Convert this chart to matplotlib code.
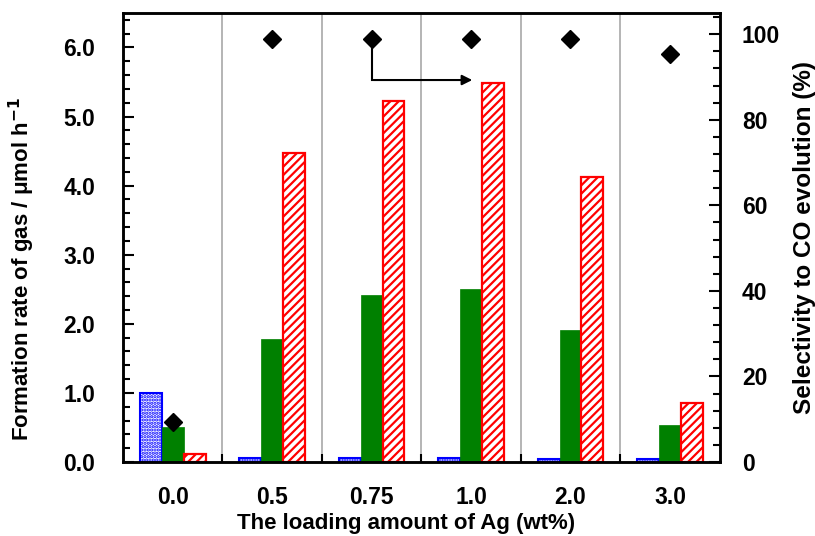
import matplotlib.pyplot as plt
import numpy as np
from matplotlib.ticker import MultipleLocator, FixedLocator

plt.rcParams['font.family'] = ['Liberation Sans', 'DejaVu Sans']
plt.rcParams['font.weight'] = 'bold'
plt.rcParams['hatch.linewidth'] = 1.6

# data
loading = ["0.0", "0.5", "0.75", "1.0", "2.0", "3.0"]
h2_rate = [1.00, 0.06, 0.06, 0.06, 0.05, 0.04]
o2_rate = [0.51, 1.78, 2.41, 2.51, 1.91, 0.53]
co_rate = [0.12, 4.47, 5.22, 5.49, 4.13, 0.85]
co_selectivity = [9.4, 99.0, 99.0, 99.0, 99.0, 95.3]

x = np.arange(len(loading))
w = 0.22

fig = plt.figure(figsize=(8.15, 5.36), dpi=100)
ax = fig.add_axes([0.151, 0.138, 0.732, 0.838])
ax2 = ax.twinx()

# group separators
for b in np.arange(0.5, len(loading) - 1, 1.0):
    ax.axvline(b, color='#b4b4b4', lw=1.4, zorder=0)

ax.bar(x - w, h2_rate, w, facecolor='white', edgecolor='blue', hatch='.....', lw=1.5, zorder=2)
ax.bar(x, o2_rate, w, color='green', edgecolor='green', lw=0.5, zorder=2)
ax.bar(x + w, co_rate, w, facecolor='white', edgecolor='red', hatch='////', lw=1.6, zorder=2)

ax2.plot(x, co_selectivity, 'D', color='black', markersize=9, zorder=5)

# arrow from 0.75 wt% selectivity point to the 1.0 wt% CO bar
ax2.plot([2, 2], [co_selectivity[2], 89.3], color='black', lw=1.5)
ax2.annotate('', xy=(3.04, 89.3), xytext=(1.99, 89.3),
             arrowprops=dict(arrowstyle='-|>', color='black', lw=1.5, mutation_scale=15))

ax.set_xlim(-0.5, len(loading) - 0.5)
ax.set_ylim(0, 6.5)
ax2.set_ylim(0, 105)

ax.xaxis.set_major_locator(FixedLocator(np.arange(0.5, len(loading) - 1, 1.0)))
ax.xaxis.set_minor_locator(FixedLocator(x))
ax.set_xticklabels([''] * (len(loading) - 1))
ax.set_xticklabels(loading, minor=True)
ax.tick_params(axis='x', which='major', direction='in', length=6, width=1.5)
ax.tick_params(axis='x', which='minor', length=0, pad=17, labelsize=16.5)

ax.yaxis.set_major_locator(MultipleLocator(1.0))
ax.yaxis.set_minor_locator(MultipleLocator(0.2))
ax.yaxis.set_major_formatter(plt.FormatStrFormatter('%.1f'))
ax.tick_params(axis='y', which='major', direction='in', length=8, width=1.5, labelsize=16.5, pad=20)
ax.tick_params(axis='y', which='minor', direction='in', length=5, width=1.5)

ax2.yaxis.set_major_locator(MultipleLocator(20))
ax2.yaxis.set_minor_locator(MultipleLocator(4))
ax2.tick_params(axis='y', which='major', direction='in', length=8, width=1.5, labelsize=16.5, pad=16)
ax2.tick_params(axis='y', which='minor', direction='in', length=5, width=1.5)

for a in (ax, ax2):
    for s in a.spines.values():
        s.set_linewidth(1.8)

ax.set_xlabel('The loading amount of Ag (wt%)', fontsize=16, fontweight='bold')
ax.xaxis.set_label_coords(0.475, -0.114)
ax.set_ylabel('Formation rate of gas / μmol h$^{\\mathbf{-1}}$', fontsize=16, fontweight='bold')
ax.yaxis.set_label_coords(-0.145, 0.43)
ax2.set_ylabel('Selectivity to CO evolution (%)', fontsize=17.5, fontweight='bold', labelpad=9)

fig.savefig('out.png', dpi=100)
